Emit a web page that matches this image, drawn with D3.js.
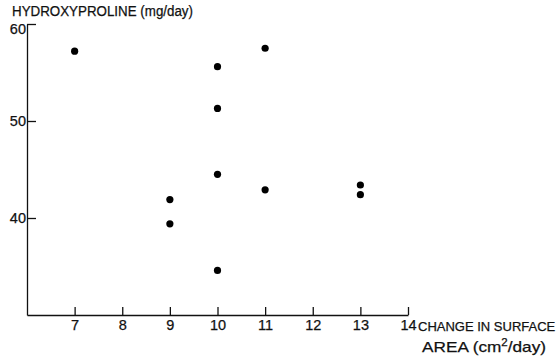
<!DOCTYPE html>
<html>
<head>
<meta charset="utf-8">
<script src="https://d3js.org/d3.v7.min.js"></script>
<style>
  body { margin: 0; background: #fff; }
  text { font-family: "Liberation Sans", Arial, sans-serif; fill: #111; stroke: #111; stroke-width: 0.25; }
</style>
</head>
<body>
<div id="chart"></div>
<script>
// change in surface area (cm2/day) vs hydroxyproline (mg/day)
var areaChange = [7, 11, 10, 10, 10, 11, 9, 9, 10, 13, 13];
var hydroxy = [57.2, 57.5, 55.6, 51.3, 44.5, 42.9, 41.9, 39.4, 34.6, 43.4, 42.4];
var xTicks = [7, 8, 9, 10, 11, 12, 13, 14];
var yTicks = [40, 50, 60];

var width = 560, height = 362;

var svg = d3.select("#chart").append("svg")
  .attr("width", width)
  .attr("height", height);

var x = d3.scaleLinear().domain([6, 14]).range([27, 408]);
var y = d3.scaleLinear().domain([30, 60]).range([315, 24]);

var xAxis = svg.append("g")
  .attr("transform", "translate(0," + y(30) + ")")
  .call(d3.axisBottom(x).tickValues(xTicks).tickSizeInner(-8).tickSizeOuter(0).tickPadding(5));

var yAxis = svg.append("g")
  .attr("transform", "translate(" + x(6) + ",0)")
  .call(d3.axisLeft(y).tickValues(yTicks).tickSizeInner(-9).tickSizeOuter(0).tickPadding(1));

svg.selectAll(".domain, .tick line")
  .attr("stroke", "#111")
  .attr("stroke-width", 1.3);

svg.selectAll(".tick text")
  .attr("font-family", "Liberation Sans, Arial, sans-serif")
  .attr("font-size", 14.5)
  .attr("fill", "#111");

// the 60 label sits below its tick, under the title
yAxis.selectAll(".tick text")
  .attr("dy", function(d) { return d === 60 ? "0.62em" : "0.32em"; });

svg.selectAll("circle.pt")
  .data(areaChange)
  .enter().append("circle")
  .attr("class", "pt")
  .attr("cx", function(d) { return x(d); })
  .attr("cy", function(d, i) { return y(hydroxy[i]); })
  .attr("r", 3.6)
  .attr("fill", "#000");

// axis titles
svg.append("text")
  .attr("x", 12).attr("y", 16)
  .attr("font-size", 14)
  .attr("textLength", 181).attr("lengthAdjust", "spacingAndGlyphs")
  .text("HYDROXYPROLINE (mg/day)");

svg.append("text")
  .attr("x", 418).attr("y", 331)
  .attr("font-size", 13)
  .text("CHANGE IN SURFACE");

var t2 = svg.append("text")
  .attr("x", 422).attr("y", 352)
  .attr("font-size", 15)
  .attr("textLength", 124).attr("lengthAdjust", "spacingAndGlyphs");
t2.append("tspan").text("AREA (cm");
t2.append("tspan").attr("font-size", 10).attr("dy", -6).text("2");
t2.append("tspan").attr("dy", 6).text("/day)");
</script>
</body>
</html>
